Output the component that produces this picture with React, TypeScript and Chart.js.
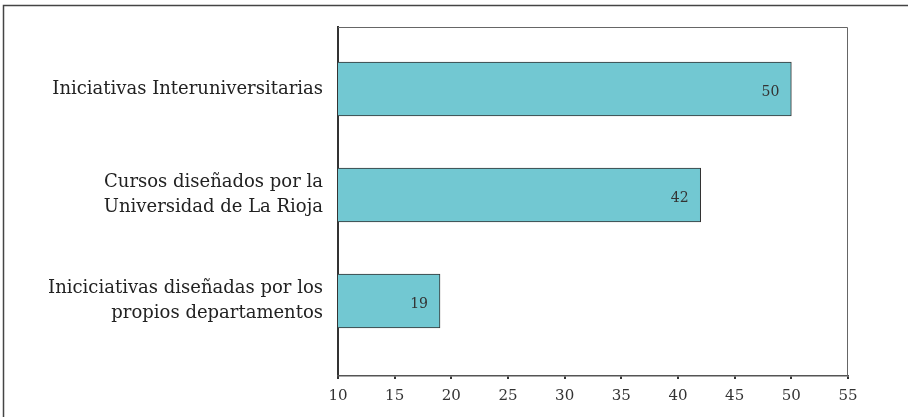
import React, { useEffect, useRef } from "react";
import { Chart, registerables } from "chart.js";

Chart.register(...registerables);

const categories: string[][] = [
  ["Iniciativas Interuniversitarias"],
  ["Cursos diseñados por la", "Universidad de La Rioja"],
  ["Iniciciativas diseñadas por los", "propios departamentos"],
];
const values: number[] = [50, 42, 19];
const xTicks: number[] = [10, 15, 20, 25, 30, 35, 40, 45, 50, 55];

const FONT = "'DejaVu Serif', serif";

const framePlugin = {
  id: "frame",
  beforeDraw(chart: any) {
    const ctx = chart.ctx;
    ctx.save();
    ctx.strokeStyle = "#444";
    ctx.lineWidth = 1.5;
    ctx.beginPath();
    ctx.moveTo(3.5, 420);
    ctx.lineTo(3.5, 5.5);
    ctx.lineTo(910, 5.5);
    ctx.stroke();
    ctx.restore();
  },
  afterDraw(chart: any) {
    const { ctx, chartArea } = chart;
    ctx.save();
    ctx.strokeStyle = "#666";
    ctx.lineWidth = 1;
    ctx.beginPath();
    ctx.moveTo(chartArea.left, chartArea.top + 0.5);
    ctx.lineTo(chartArea.right - 0.5, chartArea.top + 0.5);
    ctx.lineTo(chartArea.right - 0.5, chartArea.bottom);
    ctx.stroke();
    ctx.restore();
  },
};

const valueLabelPlugin = {
  id: "valueLabels",
  afterDatasetsDraw(chart: any) {
    const ctx = chart.ctx;
    const meta = chart.getDatasetMeta(0);
    ctx.save();
    ctx.fillStyle = "#333";
    ctx.font = `14px ${FONT}`;
    ctx.textAlign = "right";
    ctx.textBaseline = "middle";
    meta.data.forEach((bar: any, i: number) => {
      ctx.fillText(String(values[i]), bar.x - 12, bar.y + 3);
    });
    ctx.restore();
  },
};

export default function App() {
  const ref = useRef<HTMLCanvasElement>(null);
  useEffect(() => {
    if (!ref.current) return;
    const chart = new Chart(ref.current, {
      type: "bar",
      data: {
        datasets: [
          {
            data: values.map((v, i) => ({ x: v, y: i })),
            backgroundColor: "#72c8d2",
            borderColor: "#333",
            borderWidth: 1,
            borderSkipped: false,
            barThickness: 54,
          },
        ],
      },
      options: {
        indexAxis: "y",
        animation: false,
        responsive: true,
        maintainAspectRatio: false,
        layout: { padding: { left: 0, top: 27, right: 60, bottom: 0 } },
        plugins: { legend: { display: false }, tooltip: { enabled: false } },
        scales: {
          y: {
            type: "linear",
            reverse: true,
            offset: false,
            min: -0.585,
            max: 2.708,
            afterBuildTicks: (axis: any) => {
              axis.ticks = categories.map((_, i) => ({ value: i }));
            },
            afterFit: (scale: any) => {
              scale.width = 338;
              scale.paddingTop = 0;
              scale.paddingBottom = 0;
            },
            grid: { display: false, drawTicks: false, offset: false },
            border: { display: true, color: "#333", width: 2 },
            ticks: {
              padding: 15,
              color: "#222",
              font: { family: FONT, size: 18, lineHeight: 1.4 },
              callback: (v: any) => categories[Math.round(Number(v))] ?? "",
            },
          },
          x: {
            type: "linear",
            min: 10,
            max: 55,
            afterBuildTicks: (axis: any) => {
              axis.ticks = xTicks.map((v) => ({ value: v }));
            },
            afterFit: (scale: any) => {
              scale.height = 41;
            },
            grid: {
              display: true,
              drawOnChartArea: false,
              drawTicks: true,
              tickLength: 3,
              color: "#333",
              lineWidth: 2,
            },
            border: { display: true, color: "#555", width: 1.5 },
            ticks: {
              padding: 8,
              color: "#333",
              font: { family: FONT, size: 15 },
            },
          },
        },
      },
      plugins: [framePlugin, valueLabelPlugin],
    });
    return () => chart.destroy();
  }, []);
  return (
    <div style={{ position: "fixed", left: 0, top: 0, width: 908, height: 417 }}>
      <canvas ref={ref} />
    </div>
  );
}
